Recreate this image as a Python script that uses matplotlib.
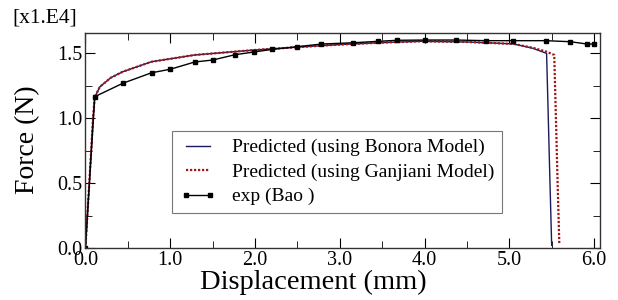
import matplotlib
matplotlib.use("Agg")
import matplotlib.pyplot as plt
from matplotlib.ticker import MultipleLocator, FormatStrFormatter

plt.rcParams['font.family'] = ['Liberation Serif', 'DejaVu Serif']

# Experimental data (Bao)
exp_x = [0.0, 0.11, 0.44, 0.78, 1.0, 1.29, 1.50, 1.765, 1.99, 2.20, 2.49, 2.78,
         3.16, 3.45, 3.68, 4.01, 4.37, 4.73, 5.04, 5.43, 5.72, 5.92, 6.00]
exp_y = [0.0, 1.164, 1.267, 1.348, 1.375, 1.431, 1.446, 1.487, 1.508, 1.528, 1.548,
         1.569, 1.579, 1.590, 1.598, 1.600, 1.600, 1.595, 1.595, 1.595, 1.587, 1.569, 1.569]

# Predicted (Bonora model)
bon_x = [0.0, 0.05, 0.09, 0.11, 0.17, 0.30, 0.44, 0.78, 1.29, 1.99, 2.5, 3.0,
         3.5, 3.95, 4.5, 5.05, 5.28, 5.44, 5.46, 5.48, 5.50]
bon_y = [0.0, 0.55, 1.00, 1.16, 1.24, 1.31, 1.356, 1.433, 1.485, 1.523, 1.545, 1.565,
         1.580, 1.590, 1.585, 1.570, 1.536, 1.497, 1.0, 0.5, 0.02]

# Predicted (Ganjiani model)
gan_x = [0.0, 0.05, 0.09, 0.11, 0.17, 0.30, 0.44, 0.78, 1.29, 1.99, 2.5, 3.0,
         3.5, 3.95, 4.5, 5.05, 5.28, 5.44, 5.53, 5.55, 5.57, 5.59]
gan_y = [0.0, 0.55, 1.00, 1.16, 1.24, 1.31, 1.356, 1.433, 1.485, 1.523, 1.545, 1.565,
         1.580, 1.590, 1.585, 1.570, 1.540, 1.510, 1.485, 1.0, 0.5, 0.03]

fig = plt.figure(figsize=(6.18, 3.0), dpi=100)
ax = fig.add_axes([85/618, 1-248/300, (600-85)/618, (248-33)/300])

ax.plot(bon_x, bon_y, color='#1a1a5e', lw=1.0, label='Predicted (using Bonora Model)')
ax.plot(gan_x, gan_y, color='#a01818', lw=1.6, ls=(0, (1, 0.8)), label='Predicted (using Ganjiani Model)')
ax.plot(exp_x, exp_y, color='black', lw=1.0, marker='s', ms=3.5, label='exp (Bao )')

ax.set_xlim(-0.005, 6.07)
ax.set_ylim(0, 1.654)
ax.xaxis.set_major_locator(MultipleLocator(1.0))
ax.xaxis.set_minor_locator(MultipleLocator(0.5))
ax.yaxis.set_major_locator(MultipleLocator(0.5))
ax.yaxis.set_minor_locator(MultipleLocator(0.25))
ax.xaxis.set_major_formatter(FormatStrFormatter('%.1f'))
ax.yaxis.set_major_formatter(FormatStrFormatter('%.1f'))
ax.tick_params(which='both', direction='in', top=True, right=True, labelsize=14.5, colors='black')
ax.tick_params(which='major', length=7)
ax.tick_params(which='minor', length=5)
ax.tick_params(axis='x', pad=2)
ax.tick_params(axis='y', pad=2)
for s in ax.spines.values():
    s.set_color('#333333')
    s.set_linewidth(1.0)

fig.text(313/618, 1-282/300, 'Displacement (mm)', ha='center', va='center', fontsize=20.5)
fig.text(28/618, 1-140/300, 'Force (N)', ha='center', va='center', fontsize=20, rotation=90)
fig.text(12/618, 1-18/300, '[x1.E4]', ha='left', va='center', fontsize=15.5)

leg = ax.legend(loc='upper left', bbox_to_anchor=(172/618, 1-131/300),
                bbox_transform=fig.transFigure, borderaxespad=0, fontsize=14,
                frameon=True, fancybox=False, handlelength=1.85, handletextpad=0.85,
                labelspacing=0.35, borderpad=0.4, numpoints=2)
leg.get_frame().set_edgecolor('#555555')
leg.get_frame().set_linewidth(0.8)

fig.savefig('out.png', dpi=100)
